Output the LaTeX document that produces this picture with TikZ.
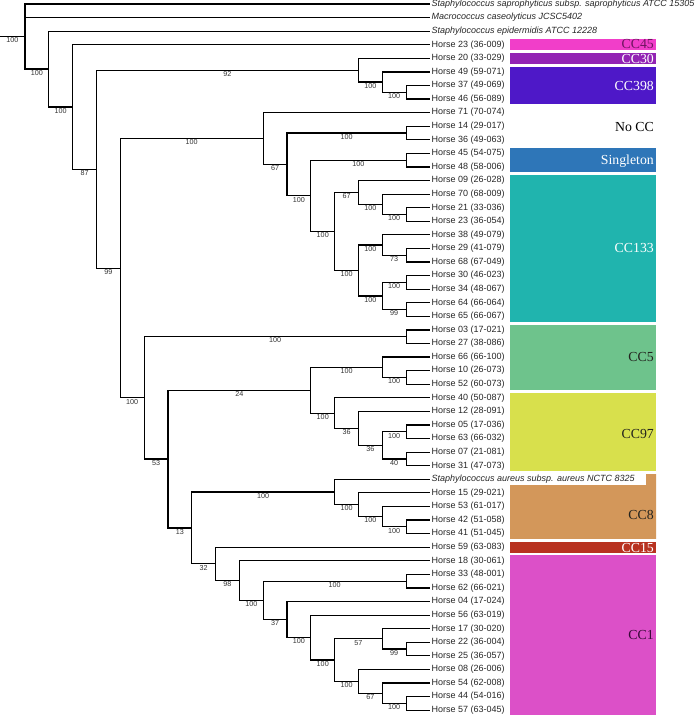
\documentclass[tikz,border=0pt]{standalone}
\usepackage{fontspec}
\setmainfont{Liberation Sans}
\newfontfamily\ccfont{Liberation Serif}
\definecolor{cc45}{RGB}{241,62,201}
\definecolor{cc30}{RGB}{146,36,180}
\definecolor{cc398}{RGB}{78,24,200}
\definecolor{single}{RGB}{46,118,184}
\definecolor{cc133}{RGB}{32,180,174}
\definecolor{cc5}{RGB}{110,195,140}
\definecolor{cc97}{RGB}{216,224,76}
\definecolor{cc8}{RGB}{211,151,90}
\definecolor{cc15}{RGB}{184,50,32}
\definecolor{cc1}{RGB}{220,80,200}
\definecolor{cc45t}{RGB}{110,20,95}
\definecolor{cc1t}{RGB}{55,10,55}
\definecolor{darkt}{RGB}{35,35,30}
\begin{document}
\begin{tikzpicture}[x=1pt,y=-1pt,
  leaf/.style={anchor=west,inner sep=1.5pt,text=black!85,font=\fontsize{9}{10}\selectfont},
  boot/.style={anchor=north,inner sep=0.6pt,text=black!80,font=\fontsize{7.2}{8}\selectfont},
  branch/.style={line width=1.2pt},
  cclab/.style={anchor=east,inner sep=1pt,font=\ccfont\fontsize{13.8}{14}\selectfont}]
\useasboundingbox (0,0) rectangle (696,716);
% clonal complexes
\foreach \a/\b/\col in {3/3/cc45,4/4/cc30,5/7/cc398,11/12/single,13/23/cc133,24/28/cc5,29/34/cc97,40/40/cc15,41/52/cc1}
  \fill[\col] (510,{4+13.58*\a-5.3}) rectangle (656,{4+13.58*\b+5.3});
\fill[cc8] (646,{4+13.58*35-5.3}) -- (656,{4+13.58*35-5.3}) -- (656,{4+13.58*39+5.3})
  -- (510,{4+13.58*39+5.3}) -- (510,485) -- (646,485) -- cycle;
\foreach \n/\t/\r/\col in {c45/CC45/2.95/cc45t,c30/CC30/4.05/white,c398/CC398/6.04/white,
  nocc/No CC/9.06/black,sgl/Singleton/11.6/white,c133/CC133/17.97/white,c5/CC5/26/darkt,
  c97/CC97/31.66/darkt,c8/CC8/37.6/darkt,c15/CC15/40.06/white,c1/CC1/46.5/cc1t}
  \node[cclab,text=\col] (lab\n) at (655,{4+13.58*\r}) {\t};
% tips
\foreach \t [count=\i from 0] in {{\textit{Staphylococcus saprophyticus subsp. saprophyticus ATCC 15305}},
  {\textit{Macrococcus caseolyticus JCSC5402}},{\textit{Staphylococcus epidermidis ATCC 12228}},
  Horse 23 (36-009),Horse 20 (33-029),Horse 49 (59-071),Horse 37 (49-069),Horse 46 (56-089),
  Horse 71 (70-074),Horse 14 (29-017),Horse 36 (49-063),Horse 45 (54-075),Horse 48 (58-006),
  Horse 09 (26-028),Horse 70 (68-009),Horse 21 (33-036),Horse 23 (36-054),Horse 38 (49-079),
  Horse 29 (41-079),Horse 68 (67-049),Horse 30 (46-023),Horse 34 (48-067),Horse 64 (66-064),
  Horse 65 (66-067),Horse 03 (17-021),Horse 27 (38-086),Horse 66 (66-100),Horse 10 (26-073),
  Horse 52 (60-073),Horse 40 (50-087),Horse 12 (28-091),Horse 05 (17-036),Horse 63 (66-032),
  Horse 07 (21-081),Horse 31 (47-073),{\textit{Staphylococcus aureus subsp. aureus NCTC 8325}},
  Horse 15 (29-021),Horse 53 (61-017),Horse 42 (51-058),Horse 41 (51-045),Horse 59 (63-083),
  Horse 18 (30-061),Horse 33 (48-001),Horse 62 (66-021),Horse 04 (17-024),Horse 56 (63-019),
  Horse 17 (30-020),Horse 22 (36-004),Horse 25 (36-057),Horse 08 (26-006),Horse 54 (62-008),
  Horse 44 (54-016),Horse 57 (63-045)}
  \node[leaf] (tip\i) at (430,{4+13.58*\i}) {\t};
% inner nodes: name/column/row
\foreach \n/\k/\r in {root/0/2.396,A/1/4.791,B/2/7.583,C/3/12.165,D/14/4.875,E/15/5.75,F/16/6.5,
  G/4/19.456,H/10/9.906,J/11/11.8125,K/16/9.5,L/12/14.125,M/16/11.5,N/13/16.75,O/14/13.875,
  Q/15/14.75,R/16/15.5,P/14/19.625,S/15/17.75,U/16/18.5,T/15/21.5,V/16/20.5,W/16/22.5,
  I/5/29.005,X/16/24.5,Y/6/33.51,Z/12/28.4375,AB/15/26.75,AD/16/27.5,AC/13/30.125,
  AE/14/31.25,AF/15/32.5,AG/16/31.5,AH/16/33.5,AA/7/38.583,AI/13/35.9375,AK/14/36.875,
  AL/15/37.75,AM/16/38.5,AJ/8/41.2285,AN/9/42.457,AO/10/43.914,AP/16/42.5,AQ/11/45.328,
  AR/12/46.656,AS/13/48.3125,AT/15/46.75,AV/16/47.5,AU/14/49.875,AW/15/50.75,AX/16/51.5}
  \coordinate (\n) at ({25+23.82*\k},{4+13.58*\r});
\coordinate (stub) at (0,{4+13.58*2.396});
\draw[branch] (stub) -- (root) node[boot,midway] {100};
% branches with support values
\foreach \p/\q/\b in {root/A/100,A/B/100,B/C/87,C/D/92,D/E/100,E/F/100,C/G/99,G/H/100,H/J/67,
  J/K/100,J/L/100,L/M/100,L/N/100,N/O/67,O/Q/100,Q/R/100,N/P/100,P/S/100,S/U/73,P/T/100,
  T/V/100,T/W/99,G/I/100,I/X/100,I/Y/53,Y/Z/24,Z/AB/100,AB/AD/100,Z/AC/100,AC/AE/36,
  AE/AF/36,AF/AG/100,AF/AH/40,Y/AA/13,AA/AI/100,AI/AK/100,AK/AL/100,AL/AM/100,AA/AJ/32,
  AJ/AN/98,AN/AO/100,AO/AP/100,AO/AQ/37,AQ/AR/100,AR/AS/100,AS/AT/57,AT/AV/99,AS/AU/100,
  AU/AW/67,AW/AX/100}
  \draw[branch] (\p) |- (\q) node[boot,pos=.75] {\b};
% branches to tips
\foreach \p/\i in {root/0,root/1,A/2,B/3,D/4,E/5,F/6,F/7,H/8,K/9,K/10,M/11,M/12,O/13,Q/14,
  R/15,R/16,S/17,U/18,U/19,V/20,V/21,W/22,W/23,X/24,X/25,AB/26,AD/27,AD/28,AC/29,AE/30,
  AG/31,AG/32,AH/33,AH/34,AI/35,AK/36,AL/37,AM/38,AM/39,AJ/40,AN/41,AP/42,AP/43,AQ/44,
  AR/45,AT/46,AV/47,AV/48,AU/49,AW/50,AX/51,AX/52}
  \draw[branch] (\p) |- (tip\i.west);
\end{tikzpicture}
\end{document}
